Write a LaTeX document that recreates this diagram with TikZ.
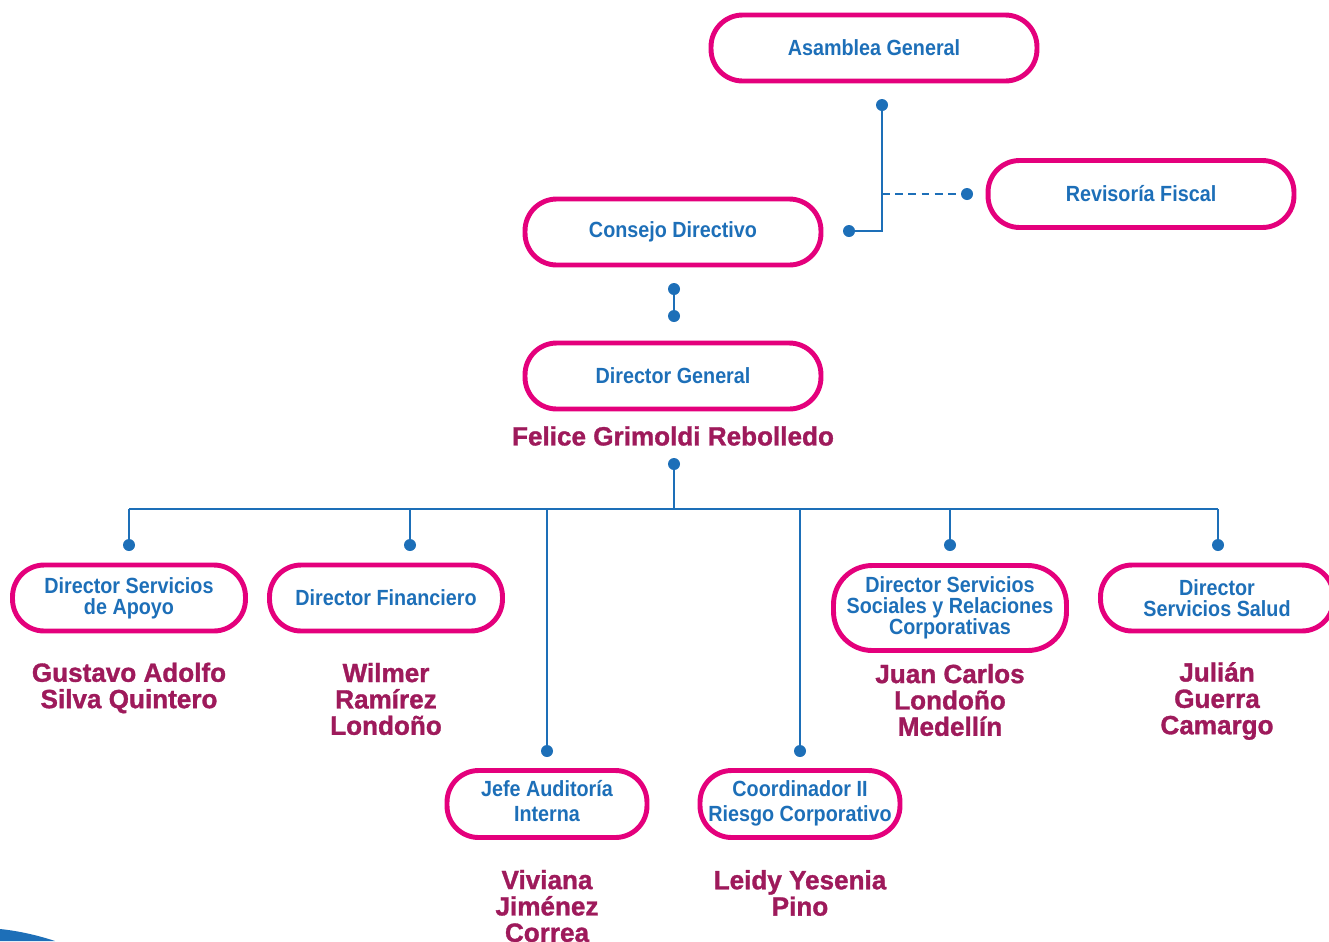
\documentclass[tikz,border=0pt]{standalone}
\usepackage{fontspec}
\setmainfont{Liberation Sans}[FakeStretch=0.9]
\newfontfamily\namefont{Liberation Sans}[FakeStretch=0.99, FakeBold=1.2]
\definecolor{pinkline}{HTML}{E4007C}
\definecolor{bluetxt}{HTML}{1D6FB8}
\definecolor{wine}{HTML}{9E1A5B}
\tikzset{
  unit/.style={draw=pinkline, line width=2.8pt, rounded corners=18pt, inner sep=0pt,
    align=center, text=bluetxt, font=\bfseries\fontsize{12.5}{11.9}\selectfont},
  who/.style={text=wine, align=center, font=\namefont\bfseries\fontsize{15}{15}\selectfont},
  link/.style={draw=bluetxt, line width=1.4pt},
  knob/.style={circle, fill=bluetxt, inner sep=0pt, minimum size=0.24cm}
}
\begin{document}
\begin{tikzpicture}[x=0.02cm, y=-0.02cm]
  \clip (0,0) rectangle (1329,941);
  % boxes
  \node[unit, minimum width=6.52cm, minimum height=1.32cm] (asamblea) at (874,48) {Asamblea General};
  \node[unit, minimum width=6.12cm, minimum height=1.34cm] (revisoria) at (1141,194) {Revisoría Fiscal};
  \node[unit, minimum width=5.92cm, minimum height=1.32cm] (consejo) at (673,232) {Consejo Directivo};
  \node[unit, minimum width=5.92cm, minimum height=1.32cm] (general) at (673,376) {Director General};
  \node[who] (felice) at (673,436) {Felice Grimoldi Rebolledo};
  \node[unit, minimum width=4.66cm, minimum height=1.32cm] (apoyo) at (129,598) {Director Servicios\\de Apoyo};
  \node[unit, minimum width=4.66cm, minimum height=1.32cm] (financiero) at (386,598) {Director Financiero};
  \node[unit, minimum width=4.66cm, minimum height=1.70cm, rounded corners=22pt] (sociales) at (950,608) {Director Servicios\\Sociales y Relaciones\\Corporativas};
  \node[unit, minimum width=4.66cm, minimum height=1.32cm] (salud) at (1217,598) {Director\\Servicios Salud};
  \node[unit, minimum width=4.0cm, minimum height=1.34cm] (auditoria) at (547,804) {Jefe Auditoría\\[2pt]Interna\\[-8.5pt]};
  \node[unit, minimum width=4.0cm, minimum height=1.34cm] (riesgo) at (800,804) {Coordinador II\\[2pt]Riesgo Corporativo\\[-8.5pt]};
  % names
  \node[who] (gustavo) at (129,688) {Gustavo Adolfo\\Silva Quintero};
  \node[who] (wilmer) at (386,699) {Wilmer\\Ramírez\\Londoño};
  \node[who] (juan) at (950,700) {Juan Carlos\\Londoño\\Medellín};
  \node[who] (julian) at (1217,701) {Julián\\Guerra\\Camargo};
  \node[who] (viviana) at (547,906) {Viviana\\Jiménez\\Correa};
  \node[who] (leidy) at (800,893) {Leidy Yesenia\\Pino};
  % top links
  \node[knob] (asambleaDot) at (882,105) {};
  \node[knob] (consejoDot) at (849,231) {};
  \node[knob] (revisoriaDot) at (967,194) {};
  \coordinate (fiscalJoin) at (882,194);
  \draw[link] (asambleaDot.center) |- (consejoDot.center);
  \draw[link, dash pattern=on 4.5pt off 3pt] (fiscalJoin) -- (revisoriaDot.center);
  \node[knob] (consejoLow) at (674,289) {};
  \node[knob] (generalTop) at (674,316) {};
  \draw[link] (consejoLow.center) -- (generalTop.center);
  % bus
  \node[knob] (generalDot) at (674,464) {};
  \coordinate (busTop) at (674,509);
  \draw[link] (generalDot.center) -- (busTop);
  \foreach \x/\y/\n in {129/545/a, 410/545/b, 547/751/c, 800/751/d, 950/545/e, 1218/545/f} {
    \node[knob] (drop\n) at (\x,\y) {};
    \draw[link] (drop\n.center |- busTop) -- (drop\n.center);
  }
  \draw[link] (dropa.center |- busTop) -- (dropf.center |- busTop);
  % corner swoosh
  \fill[bluetxt] (0,929) .. controls (20,931) and (40,936) .. (55,941) -- (0,941) -- cycle;
\end{tikzpicture}
\end{document}
